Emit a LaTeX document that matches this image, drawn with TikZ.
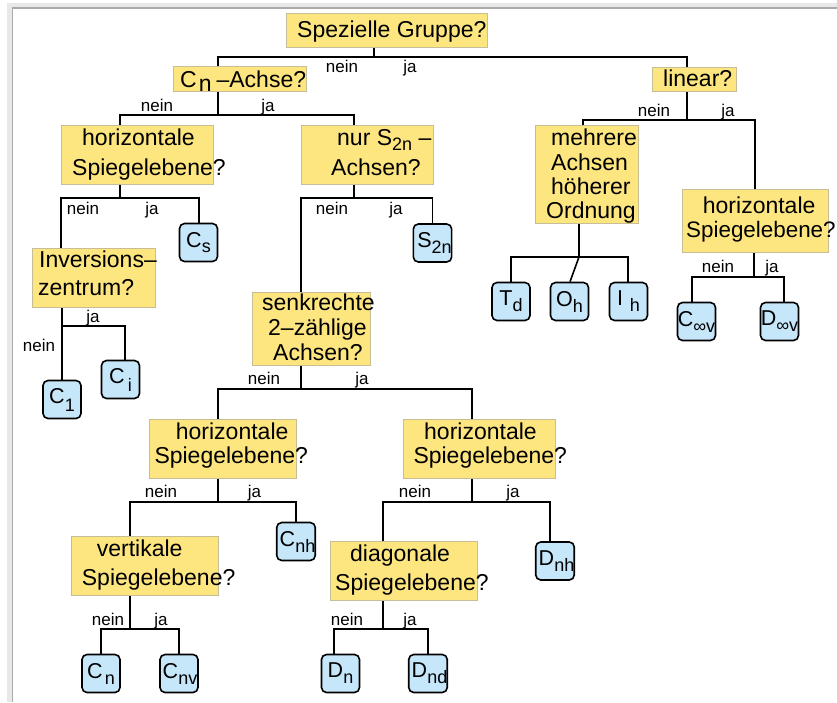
\documentclass[tikz,border=0pt]{standalone}
\usepackage{fontspec}
\setmainfont{Liberation Sans}
\definecolor{qfill}{RGB}{253,230,128}
\definecolor{qline}{RGB}{200,190,150}
\definecolor{lfill}{RGB}{198,230,250}
\definecolor{frlight}{RGB}{232,232,232}
\definecolor{frdark}{RGB}{170,170,170}
\newcommand{\lsub}[2][6pt]{\raisebox{-#1}{\fontsize{18}{18}\selectfont #2}}
\begin{document}
\begin{tikzpicture}[x=1pt,y=-1pt,
  qbox/.style={draw=qline,fill=qfill,line width=1pt,inner sep=0pt},
  qtxt/.style={inner sep=0pt,anchor=base west,font=\fontsize{23}{24}\selectfont},
  leaf/.style={draw=black,fill=lfill,line width=1.6pt,rounded corners=5pt,minimum size=38pt,inner sep=0pt,font=\fontsize{21.5}{21.5}\selectfont},
  lab/.style={inner sep=0pt,anchor=base,font=\fontsize{17}{17}\selectfont},
  conn/.style={draw=black,line width=1.6pt}]
\useasboundingbox (0,0) rectangle (837,702);
\fill[white] (0,0) rectangle (837,702);
\fill[frlight] (7,3) rectangle (837,8);
\fill[frlight] (7,3) rectangle (12,702);
\draw[frdark,line width=1.2pt] (12.5,702) -- (12.5,8) -- (837,8);

% question boxes
\node[qbox,minimum width=201pt,minimum height=34pt] (top) at (386.5,30) {};
\node[qbox,minimum width=133pt,minimum height=25pt] (cn) at (239.5,78.5) {};
\node[qbox,minimum width=84pt,minimum height=24pt] (lin) at (694,79) {};
\node[qbox,minimum width=152pt,minimum height=59pt] (hsa) at (137,154.5) {};
\node[qbox,minimum width=132pt,minimum height=59pt] (nurs) at (367,154.5) {};
\node[qbox,minimum width=103pt,minimum height=98pt] (mehr) at (586.5,174) {};
\node[qbox,minimum width=146pt,minimum height=63pt] (hsr) at (755,220.5) {};
\node[qbox,minimum width=123pt,minimum height=59pt] (inv) at (93.5,277.5) {};
\node[qbox,minimum width=118pt,minimum height=73pt] (senk) at (311,328.5) {};
\node[qbox,minimum width=147pt,minimum height=59pt] (hsml) at (222.5,448.5) {};
\node[qbox,minimum width=152pt,minimum height=59pt] (hsmr) at (479,448.5) {};
\node[qbox,minimum width=147pt,minimum height=59pt] (vert) at (144.5,565.5) {};
\node[qbox,minimum width=147pt,minimum height=59pt] (diag) at (403.5,570.5) {};

% question texts
\node[qtxt] (topT) at (297,37.3) {Spezielle Gruppe?};
\node[qtxt] (cnT) at (180,87.3) {C\hspace{2pt}\raisebox{-4pt}{n}\hspace{5pt}–Achse?};
\node[qtxt] (linT) at (663,86) {linear?};
\node[qtxt] (hsaT1) at (82,145.7) {horizontale};
\node[qtxt] (hsaT2) at (72,175) {Spiegelebene?};
\node[qtxt] (nursT1) at (337,145.7) {nur S\lsub[5pt]{2n} –};
\node[qtxt] (nursT2) at (331,175) {Achsen?};
\node[qtxt] (mehrT1) at (551,145.7) {mehrere};
\node[qtxt] (mehrT2) at (551,170) {Achsen};
\node[qtxt] (mehrT3) at (551,194.3) {höherer};
\node[qtxt] (mehrT4) at (546,218.3) {Ordnung};
\node[qtxt] (hsrT1) at (702.7,213.3) {horizontale};
\node[qtxt,font=\fontsize{22.4}{24}\selectfont] (hsrT2) at (686,237.3) {Spiegelebene?};
\node[qtxt] (invT1) at (39,267.3) {Inversions–};
\node[qtxt] (invT2) at (38,295) {zentrum?};
\node[qtxt] (senkT1) at (262,310.7) {senkrechte};
\node[qtxt] (senkT2) at (268,335) {2–zählige};
\node[qtxt] (senkT3) at (273,360) {Achsen?};
\node[qtxt] (hsmlT1) at (175.7,439.3) {horizontale};
\node[qtxt] (hsmlT2) at (154.3,463.3) {Spiegelebene?};
\node[qtxt] (hsmrT1) at (424,439.3) {horizontale};
\node[qtxt] (hsmrT2) at (413.3,463.3) {Spiegelebene?};
\node[qtxt] (vertT1) at (96.7,556) {vertikale};
\node[qtxt] (vertT2) at (81.7,585) {Spiegelebene?};
\node[qtxt] (diagT1) at (350,561) {diagonale};
\node[qtxt] (diagT2) at (335,590) {Spiegelebene?};

% leaves
\node[leaf] (cs) at (198.5,242.5) {C\lsub[5pt]{s}};
\node[leaf] (s2n) at (432.5,243) {\hspace{4pt}S\lsub{2n}};
\node[leaf] (td) at (511,301.5) {T\lsub{d}};
\node[leaf] (oh) at (569.5,301.5) {O\lsub{h}};
\node[leaf] (ih) at (628.5,301.5) {I\hspace{7pt}\lsub{h}};
\node[leaf] (cinf) at (696.5,321.5) {C\lsub{∞v}};
\node[leaf] (dinf) at (779.5,321.5) {D\lsub{∞v}};
\node[leaf] (c1) at (62,399.5) {C\lsub[8pt]{1}};
\node[leaf] (ci) at (120.5,379.5) {C\hspace{3pt}\lsub[8pt]{i}};
\node[leaf] (cnh) at (296,541.5) {\hspace{3pt}C\lsub{nh}};
\node[leaf] (dnh) at (555,561) {\hspace{3pt}D\lsub{nh}};
\node[leaf] (cnl) at (101,673.5) {C\hspace{2pt}\lsub{n}};
\node[leaf] (cnv) at (179,673.5) {\hspace{2pt}C\lsub{nv}};
\node[leaf] (dn) at (340.5,673.5) {D\lsub{n}};
\node[leaf] (dnd) at (428,673.5) {\hspace{3pt}D\lsub{nd}};

% junctions
\coordinate (j1) at (374,57);
\coordinate (j2) at (218,115);
\coordinate (j3) at (120,198);
\coordinate (j4) at (354,198);
\coordinate (j5) at (687,120);
\coordinate (j6) at (579,257);
\coordinate (j7) at (754,277);
\coordinate (j8) at (62,326);
\coordinate (j9) at (301,389);
\coordinate (j10) at (218,502);
\coordinate (j11) at (472,502);
\coordinate (j12) at (130,629);
\coordinate (j13) at (383,629);

% connectors
\draw[conn] (j1) -- (j1 |- top.south);
\draw[conn] ([xshift=-21.5pt]cn.north) |- (j1) -| ([xshift=-7pt]lin.north);
\draw[conn] (j2) -- (j2 |- cn.south);
\draw[conn] ([xshift=-17pt]hsa.north) |- (j2) -| ([xshift=-13pt]nurs.north);
\draw[conn] (j3) -- (j3 |- hsa.south);
\draw[conn] ([xshift=-32.5pt]inv.north) |- (j3) -| ([xshift=0.5pt]cs.north);
\draw[conn] (j4) -- (j4 |- nurs.south);
\draw[conn] ([xshift=-10pt]senk.north) |- (j4) -| (s2n.north);
\draw[conn] (j5) -- (j5 |- lin.south);
\draw[conn] ([xshift=-3.5pt]mehr.north) |- (j5) -| (hsr.north);
\draw[conn] (j6) -- (j6 |- mehr.south);
\draw[conn] (td.north) |- (j6) -| ([xshift=-0.5pt]ih.north);
\draw[conn] (j6) -- ([xshift=0.5pt]oh.north);
\draw[conn] (j7) -- (j7 |- hsr.south);
\draw[conn] ([xshift=-4.5pt]cinf.north) |- (j7) -| ([xshift=4.5pt]dinf.north);
\draw[conn] (c1.north) -- (c1.north |- inv.south);
\draw[conn] (j8) -| ([xshift=4.5pt]ci.north);
\draw[conn] (j9) -- (j9 |- senk.south);
\draw[conn] ([xshift=-4.5pt]hsml.north) |- (j9) -| ([xshift=-7pt]hsmr.north);
\draw[conn] (j10) -- (j10 |- hsml.south);
\draw[conn] ([xshift=-14.5pt]vert.north) |- (j10) -| (cnh.north);
\draw[conn] (j11) -- (j11 |- hsmr.south);
\draw[conn] ([xshift=-20.5pt]diag.north) |- (j11) -| ([xshift=-5pt]dnh.north);
\draw[conn] (j12) -- (j12 |- vert.south);
\draw[conn] (cnl.north) |- (j12) -| (cnv.north);
\draw[conn] (j13) -- (j13 |- diag.south);
\draw[conn] ([xshift=-6.5pt]dn.north) |- (j13) -| (dnd.north);

% labels
\node[lab] (l1n) at (342,72) {nein};
\node[lab] (l1j) at (410,72) {ja};
\node[lab] (l2n) at (157,111) {nein};
\node[lab] (l2j) at (268,111) {ja};
\node[lab] (l3n) at (83,214) {nein};
\node[lab] (l3j) at (152,214) {ja};
\node[lab] (l4n) at (332,214) {nein};
\node[lab] (l4j) at (396,214) {ja};
\node[lab] (l5n) at (654,116) {nein};
\node[lab] (l5j) at (728,116) {ja};
\node[lab] (l7n) at (718,272) {nein};
\node[lab] (l7j) at (772,272) {ja};
\node[lab] (l8j) at (93,322) {ja};
\node[lab] (l8n) at (39,351) {nein};
\node[lab] (l9n) at (264,384) {nein};
\node[lab] (l9j) at (362,384) {ja};
\node[lab] (l10n) at (161,497) {nein};
\node[lab] (l10j) at (254.5,497) {ja};
\node[lab] (l11n) at (415,497) {nein};
\node[lab] (l11j) at (513,497) {ja};
\node[lab] (l12n) at (108,625) {nein};
\node[lab] (l12j) at (161,625) {ja};
\node[lab] (l13n) at (347,625) {nein};
\node[lab] (l13j) at (410,625) {ja};
\end{tikzpicture}
\end{document}
